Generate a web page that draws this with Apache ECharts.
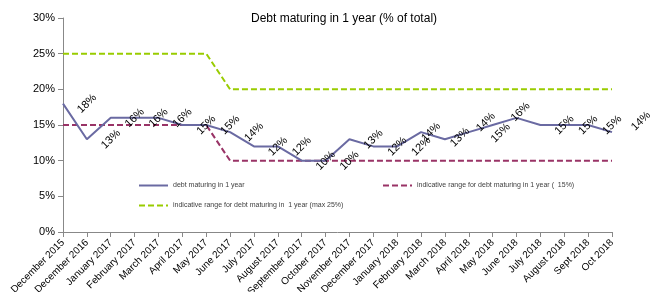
<!DOCTYPE html>
<html>
<head>
<meta charset="utf-8">
<script src="https://cdn.jsdelivr.net/npm/echarts@6/dist/echarts.min.js"></script>
<style>
  html, body { margin: 0; padding: 0; background: #fff; }
  #chart { width: 653px; height: 292px; }
</style>
</head>
<body>
<div id="chart"></div>
<script>
// categories (x axis)
var months = ['December 2015', 'December 2016', 'January 2017', 'February 2017', 'March 2017',
  'April 2017', 'May 2017', 'June 2017', 'July 2017', 'August 2017', 'September 2017',
  'October 2017', 'November 2017', 'December 2017', 'January 2018', 'February 2018',
  'March 2018', 'April 2018', 'May 2018', 'June 2018', 'July 2018', 'August 2018',
  'Sept 2018', 'Oct 2018'];

// debt maturing in 1 year (%)
var debtShare = [18, 13, 16, 16, 16, 15, 15, 14, 12, 12, 10, 10, 13, 12, 12, 14, 13, 14, 15, 16, 15, 15, 15, 14];

// indicative range, lower bound (%)
var rangeLow = [15, 15, 15, 15, 15, 15, 15, 10, 10, 10, 10, 10, 10, 10, 10, 10, 10, 10, 10, 10, 10, 10, 10, 10];

// indicative range, max (%)
var rangeMax = [25, 25, 25, 25, 25, 25, 25, 20, 20, 20, 20, 20, 20, 20, 20, 20, 20, 20, 20, 20, 20, 20, 20, 20];

// y axis ticks
var yMin = 0, yMax = 30, yStep = 5;

var nameDebt = 'debt maturing in 1 year';
var nameLow = 'indicative range for debt maturing in 1 year (  15%)';
var nameMax = 'indicative range for debt maturing in  1 year (max 25%)';

// label placement: labels sit right of the point, a few were moved by hand
var labelShift = { x: 24, y: 0 };
var labelMoved = { 15: [10, 0], 16: [15, -2], 17: [17, -10], 18: [8, 8], 19: [4, -6], 23: [29, -11] };

var chart = echarts.init(document.getElementById('chart'));

var legendText = { fontSize: 7, color: '#404040', fontFamily: 'Liberation Sans, Arial' };

var option = {
  animation: false,
  textStyle: { fontFamily: 'Liberation Sans, Arial' },
  title: {
    text: 'Debt maturing in 1 year (% of total)',
    left: 339,
    top: 8,
    textAlign: 'center',
    textStyle: { fontSize: 12, fontWeight: 'normal', color: '#000' }
  },
  grid: { left: 63, right: 41, top: 18, bottom: 60, outerBoundsMode: 'none', containLabel: false },
  legend: [
    { data: [nameDebt], left: 133, top: 177, itemWidth: 29, itemHeight: 8, itemGap: 2, textStyle: legendText },
    { data: [nameLow], left: 377, top: 177, itemWidth: 29, itemHeight: 8, textStyle: legendText },
    { data: [nameMax], left: 133, top: 197, itemWidth: 29, itemHeight: 8, textStyle: legendText }
  ],
  xAxis: {
    type: 'category',
    data: months,
    boundaryGap: false,
    axisLine: { lineStyle: { color: '#888', width: 1 } },
    axisTick: { alignWithLabel: true, length: 5, lineStyle: { color: '#888' } },
    axisLabel: { rotate: 45, fontSize: 10, color: '#000', interval: 0, margin: 9 },
    splitLine: { show: false }
  },
  yAxis: {
    type: 'value',
    min: yMin,
    max: yMax,
    interval: yStep,
    axisLine: { show: true, lineStyle: { color: '#888', width: 1 } },
    axisTick: { show: true, length: 5, lineStyle: { color: '#888' } },
    axisLabel: { formatter: '{value}%', fontSize: 11, color: '#000', margin: 8 },
    splitLine: { show: false }
  },
  series: [
    {
      name: nameMax,
      type: 'line',
      data: rangeMax,
      symbol: 'none',
      lineStyle: { color: '#99CC00', width: 2, type: [6, 3] },
      itemStyle: { color: 'transparent' },
      z: 1
    },
    {
      name: nameLow,
      type: 'line',
      data: rangeLow,
      symbol: 'none',
      lineStyle: { color: '#993366', width: 2, type: [6, 3] },
      itemStyle: { color: 'transparent' },
      z: 1
    },
    {
      name: nameDebt,
      type: 'line',
      data: debtShare,
      symbol: 'circle',
      symbolSize: 2,
      showSymbol: true,
      lineStyle: { color: '#6A6AA2', width: 2 },
      itemStyle: { color: 'transparent' },
      label: {
        show: true,
        position: 'inside',
        rotate: 45,
        align: 'center',
        verticalAlign: 'middle',
        fontSize: 11,
        color: '#000',
        formatter: '{c}%'
      },
      // the shift is turned with the label, so undo the 45 degree turn
      labelLayout: function (p) {
        var s = labelMoved[p.dataIndex] || [labelShift.x, labelShift.y];
        var k = Math.SQRT1_2;
        return { dx: (s[0] - s[1]) * k, dy: (s[0] + s[1]) * k };
      },
      z: 3
    }
  ]
};

chart.setOption(option);
</script>
</body>
</html>
